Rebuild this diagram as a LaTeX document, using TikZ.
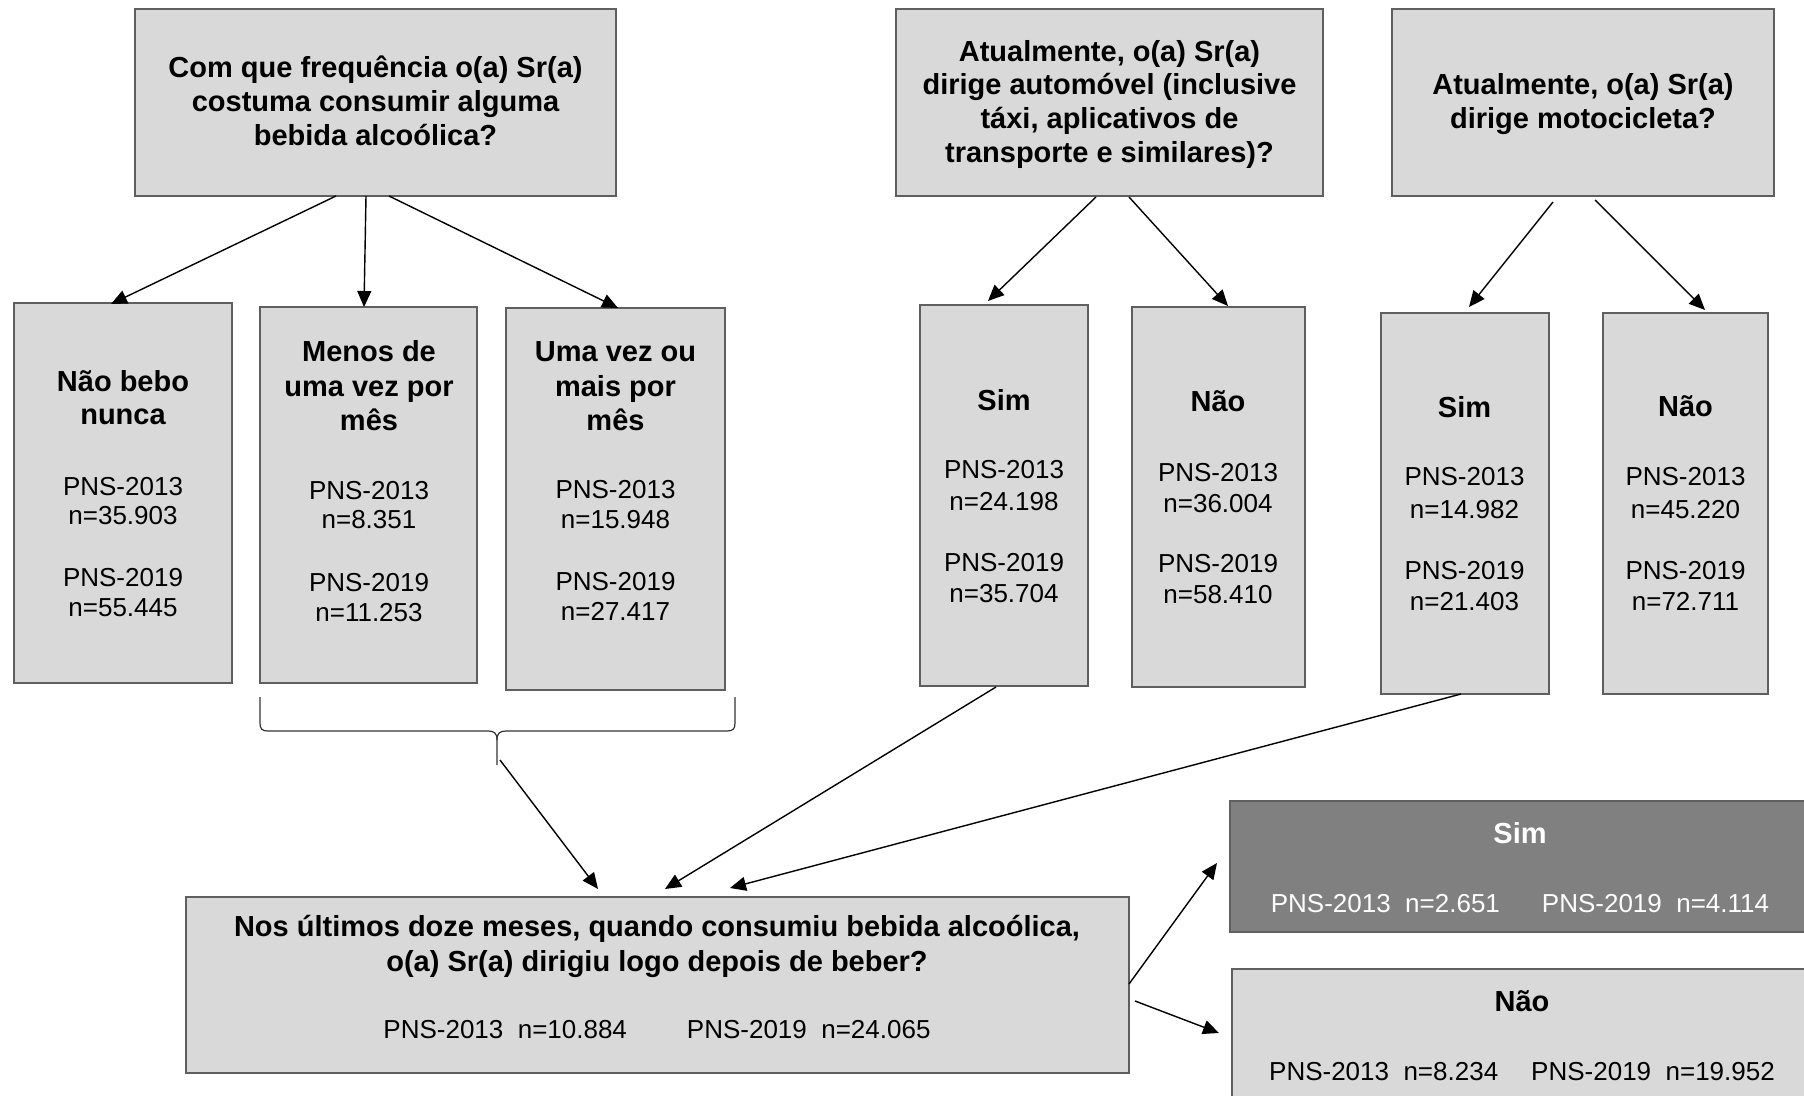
\documentclass[tikz,border=0pt]{standalone}
\usepackage{fontspec}
\setmainfont{Liberation Sans}
\usetikzlibrary{arrows.meta,calc}
\definecolor{boxfill}{HTML}{D9D9D9}
\definecolor{boxline}{HTML}{5F5F5F}
\definecolor{darkfill}{HTML}{808080}
\tikzset{
  qbox/.style={draw=boxline, fill=boxfill, line width=1.2pt, anchor=north west, inner sep=0, outer sep=0},
  dbox/.style={qbox, fill=darkfill},
  tbold/.style={font=\bfseries\fontsize{14.5}{17}\selectfont, anchor=base, inner sep=0},
  treg/.style={font=\fontsize{13}{15}\selectfont, anchor=base, inner sep=0},
  arr/.style={-{Triangle[length=8pt,width=7pt]}, line width=0.7pt, black},
  bracel/.style={line width=0.6pt, black!80}
}
\begin{document}
\begin{tikzpicture}[x=0.5pt,y=-0.5pt]
\path[use as bounding box] (0,0) rectangle (1804,1096);
\clip (0,0) rectangle (1804,1096);
% boxes
\node[qbox, minimum width=240.5pt, minimum height=93.5pt] (TL) at (135,9) {};
\node[qbox, minimum width=213.5pt, minimum height=93.5pt] (TM) at (896,9) {};
\node[qbox, minimum width=191pt, minimum height=93.5pt] (TR) at (1392,9) {};
\node[qbox, minimum width=109pt, minimum height=190pt] (NB) at (14,303) {};
\node[qbox, minimum width=108.5pt, minimum height=188pt] (MD) at (260,307) {};
\node[qbox, minimum width=109.5pt, minimum height=191pt] (UV) at (506,308) {};
\node[qbox, minimum width=84pt, minimum height=190.5pt] (SA) at (920,305) {};
\node[qbox, minimum width=86.5pt, minimum height=190pt] (NA) at (1132,307) {};
\node[qbox, minimum width=84pt, minimum height=190.5pt] (SM) at (1381,313) {};
\node[qbox, minimum width=82.5pt, minimum height=190.5pt] (NM) at (1603,313) {};
\node[qbox, minimum width=471.5pt, minimum height=88pt] (B) at (186,897) {};
\node[dbox, minimum width=292.5pt, minimum height=65.5pt] (YS) at (1230,801) {};
\node[qbox, minimum width=291.5pt, minimum height=73pt] (NO) at (1232,969) {};
% top texts
\node[tbold] (tl1) at (375.5,78) {Com que frequência o(a) Sr(a)};
\node[tbold] (tl2) at (375.5,112) {costuma consumir alguma};
\node[tbold] (tl3) at (375.5,146) {bebida alcoólica?};
\node[tbold] (tm1) at (1109.5,62) {Atualmente, o(a) Sr(a)};
\node[tbold] (tm2) at (1109.5,95) {dirige automóvel (inclusive};
\node[tbold] (tm3) at (1109.5,129) {táxi, aplicativos de};
\node[tbold] (tm4) at (1109.5,163) {transporte e similares)?};
\node[tbold] (tr1) at (1583,95) {Atualmente, o(a) Sr(a)};
\node[tbold] (tr2) at (1583,129) {dirige motocicleta?};
% row 2 texts
\node[tbold] (nb1) at (123,392) {Não bebo};
\node[tbold] (nb2) at (123,425) {nunca};
\node[treg] (nb3) at (123,495) {PNS-2013};
\node[treg] (nb4) at (123,524) {n=35.903};
\node[treg] (nb5) at (123,586) {PNS-2019};
\node[treg] (nb6) at (123,616) {n=55.445};
\node[tbold] (md1) at (369,362) {Menos de};
\node[tbold] (md2) at (369,397) {uma vez por};
\node[tbold] (md3) at (369,430) {mês};
\node[treg] (md4) at (369,499) {PNS-2013};
\node[treg] (md5) at (369,528) {n=8.351};
\node[treg] (md6) at (369,591) {PNS-2019};
\node[treg] (md7) at (369,621) {n=11.253};
\node[tbold] (uv1) at (615.5,362) {Uma vez ou};
\node[tbold] (uv2) at (615.5,397) {mais por};
\node[tbold] (uv3) at (615.5,430) {mês};
\node[treg] (uv4) at (615.5,498) {PNS-2013};
\node[treg] (uv5) at (615.5,528) {n=15.948};
\node[treg] (uv6) at (615.5,590) {PNS-2019};
\node[treg] (uv7) at (615.5,620) {n=27.417};
\node[tbold] (sa1) at (1004,411) {Sim};
\node[treg] (sa2) at (1004,479) {PNS-2013};
\node[treg] (sa3) at (1004,510) {n=24.198};
\node[treg] (sa4) at (1004,571) {PNS-2019};
\node[treg] (sa5) at (1004,602) {n=35.704};
\node[tbold] (na1) at (1218,412) {Não};
\node[treg] (na2) at (1218,481) {PNS-2013};
\node[treg] (na3) at (1218,512) {n=36.004};
\node[treg] (na4) at (1218,572) {PNS-2019};
\node[treg] (na5) at (1218,603) {n=58.410};
\node[tbold] (sm1) at (1464.5,418) {Sim};
\node[treg] (sm2) at (1464.5,486) {PNS-2013};
\node[treg] (sm3) at (1464.5,518) {n=14.982};
\node[treg] (sm4) at (1464.5,579) {PNS-2019};
\node[treg] (sm5) at (1464.5,610) {n=21.403};
\node[tbold] (nm1) at (1685.5,417) {Não};
\node[treg] (nm2) at (1685.5,486) {PNS-2013};
\node[treg] (nm3) at (1685.5,518) {n=45.220};
\node[treg] (nm4) at (1685.5,579) {PNS-2019};
\node[treg] (nm5) at (1685.5,610) {n=72.711};
% bottom texts
\node[tbold] (b1) at (657,936) {Nos últimos doze meses, quando consumiu bebida alcoólica,};
\node[tbold] (b2) at (657,971) {o(a) Sr(a) dirigiu logo depois de beber?};
\node[treg] (b3) at (657,1038) {PNS-2013~~n=10.884\hspace{30pt}PNS-2019~~n=24.065};
\node[tbold, text=white] (ys1) at (1520,843) {Sim};
\node[treg, text=white] (ys2) at (1520,912) {PNS-2013~~n=2.651\hspace{21pt}PNS-2019~~n=4.114};
\node[tbold] (no1) at (1522,1011) {Não};
\node[treg] (no2) at (1522,1080) {PNS-2013~~n=8.234\hspace{16.5pt}PNS-2019~~n=19.952};
% brace
\draw[bracel] (260,697) -- (260,723) .. controls (260,729) and (262,731) .. (268,731) -- (488,731)
  .. controls (494,731) and (497,733) .. (497,740) -- (497,765);
\draw[bracel] (497,740) .. controls (497,733) and (500,731) .. (506,731) -- (727,731)
  .. controls (733,731) and (735,729) .. (735,723) -- (735,697);
\coordinate (bt) at (500,760);
% arrows
\draw[arr] ($(TL.south west)+(201,0)$) -- ($(NB.north west)+(97,1)$);
\draw[arr] ($(TL.south west)+(231,0)$) -- ($(MD.north west)+(104,0)$);
\draw[arr] ($(TL.south west)+(254,0)$) -- ($(UV.north west)+(112,0)$);
\draw[arr] ($(TM.south west)+(200,1)$) -- ($(SA.north west)+(68,-4)$);
\draw[arr] ($(TM.south west)+(233,1)$) -- ($(NA.north west)+(96,-1)$);
\draw[arr] ($(TR.south west)+(161,6)$) -- ($(SM.north west)+(88,-6)$);
\draw[arr] ($(TR.south west)+(203,4)$) -- ($(NM.north west)+(102,-3)$);
\draw[arr] (bt) -- ($(B.north west)+(412,-8)$);
\draw[arr] ($(SA.south west)+(76,1)$) -- ($(B.north west)+(479,-8)$);
\draw[arr] ($(SM.south west)+(80,0)$) -- ($(B.north west)+(544,-9)$);
\draw[arr] ($(B.north east)+(0,87)$) -- ($(YS.south west)+(-13,-69)$);
\draw[arr] ($(B.north east)+(6,104)$) -- ($(NO.north west)+(-13,64)$);
\end{tikzpicture}
\end{document}
